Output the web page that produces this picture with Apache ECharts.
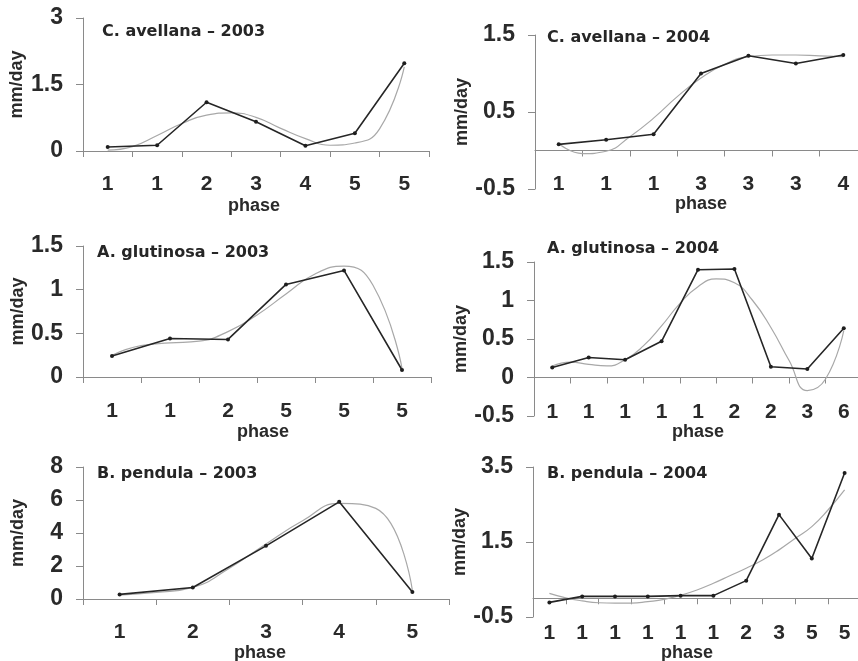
<!DOCTYPE html>
<html>
<head>
<meta charset="utf-8">
<script src="https://cdn.jsdelivr.net/npm/echarts@6/dist/echarts.min.js"></script>
<style>
  html, body { margin: 0; background: #fff; }
  #chart { width: 858px; height: 661px; }
</style>
</head>
<body>
<div id="chart"></div>
<script>
// phase of each measurement (x labels)
const phaseCav03 = ['1', '1', '2', '3', '4', '5', '5'];
const phaseCav04 = ['1', '1', '1', '3', '3', '3', '4'];
const phaseGlu03 = ['1', '1', '2', '5', '5', '5'];
const phaseGlu04 = ['1', '1', '1', '1', '1', '2', '2', '3', '6'];
const phasePen03 = ['1', '2', '3', '4', '5'];
const phasePen04 = ['1', '1', '1', '1', '1', '1', '2', '3', '5', '5'];

// measured rate, mm/day
const rateCav03 = [0.09, 0.13, 1.1, 0.66, 0.12, 0.4, 1.98];
const rateCav04 = [0.08, 0.14, 0.21, 1.0, 1.23, 1.13, 1.24];
const rateGlu03 = [0.24, 0.44, 0.43, 1.06, 1.22, 0.08];
const rateGlu04 = [0.13, 0.26, 0.23, 0.47, 1.4, 1.41, 0.14, 0.11, 0.64];
const ratePen03 = [0.28, 0.7, 3.22, 5.89, 0.42];
const ratePen04 = [-0.11, 0.05, 0.05, 0.05, 0.07, 0.07, 0.47, 2.23, 1.06, 3.34];

// fitted trend, read every half phase step (first value at the first point)
const trendCav03 = [0.02, 0.1, 0.35, 0.62, 0.81, 0.86, 0.76, 0.51, 0.28, 0.13, 0.18, 0.5, 1.9];
const trendCav04 = [0.09, -0.04, -0.01, 0.18, 0.42, 0.7, 0.94, 1.12, 1.22, 1.24, 1.24, 1.23, 1.22];
const trendGlu03 = [0.25, 0.36, 0.39, 0.41, 0.52, 0.71, 0.95, 1.18, 1.27, 1.05, 0.1];
const trendGlu04 = [0.15, 0.2, 0.17, 0.15, 0.23, 0.41, 0.67, 0.96, 1.18, 1.28, 1.23, 1.0, 0.65, 0.22, -0.17, -0.02, 0.61];
const trendPen03 = [0.24, 0.4, 0.7, 1.87, 3.34, 4.74, 5.79, 5.49, 0.52];
const trendPen04 = [0.13, 0.01, -0.07, -0.12, -0.13, -0.13, -0.09, -0.03, 0.08, 0.22, 0.4, 0.6, 0.8, 1.02, 1.29, 1.6, 1.91, 2.36, 2.89];

// y tick labels
const yTicksCav03 = [0, 1.5, 3];
const yTicksCav04 = [-0.5, 0.5, 1.5];
const yTicksGlu03 = [0, 0.5, 1, 1.5];
const yTicksGlu04 = [-0.5, 0, 0.5, 1, 1.5];
const yTicksPen03 = [0, 2, 4, 6, 8];
const yTicksPen04 = [-0.5, 1.5, 3.5];

const titles = ['C. avellana – 2003', 'C. avellana – 2004', 'A. glutinosa – 2003',
  'A. glutinosa – 2004', 'B. pendula – 2003', 'B. pendula – 2004'];

const panels = [
  { cats: phaseCav03, vals: rateCav03, trend: trendCav03, ticks: yTicksCav03 },
  { cats: phaseCav04, vals: rateCav04, trend: trendCav04, ticks: yTicksCav04 },
  { cats: phaseGlu03, vals: rateGlu03, trend: trendGlu03, ticks: yTicksGlu03 },
  { cats: phaseGlu04, vals: rateGlu04, trend: trendGlu04, ticks: yTicksGlu04 },
  { cats: phasePen03, vals: ratePen03, trend: trendPen03, ticks: yTicksPen03 },
  { cats: phasePen04, vals: ratePen04, trend: trendPen04, ticks: yTicksPen04 }
];

// layout of each panel (nx = sideways nudge of the "phase" name)
const boxes = [
  { left: 83, top: 18, width: 346, height: 133, tx: 102, ty: 32, xGap: 46, yGap: 57, lm: 23, nx: -2 },
  { left: 535, top: 35, width: 332, height: 154, tx: 547, ty: 38, xGap: 42, yGap: 59, lm: 23, nx: 0 },
  { left: 83, top: 246, width: 348, height: 131, tx: 97, ty: 253, xGap: 42, yGap: 56, lm: 24, nx: 6 },
  { left: 534, top: 262, width: 328, height: 154, tx: 547, ty: 249, xGap: 46, yGap: 58, lm: 24, nx: 0 },
  { left: 83, top: 467, width: 366, height: 132, tx: 97, ty: 474, xGap: 41, yGap: 56, lm: 23, nx: -6 },
  { left: 533, top: 467, width: 328, height: 150, tx: 547, ty: 474, xGap: 43, yGap: 56, lm: 24, nx: -10 }
];

const font = '"Liberation Sans", Arial, sans-serif';
const axisGray = '#8a8a8a';
const textCol = '#2a2a2a';

const chart = echarts.init(document.getElementById('chart'));

let grid = [], xAxis = [], yAxis = [], series = [], graphic = [];

panels.forEach((p, i) => {
  const b = boxes[i];
  const yMin = p.ticks[0], yMax = p.ticks[p.ticks.length - 1];
  // distance of the zero line above the grid bottom (phase axis sits there, labels follow it)
  const zeroOff = b.height * (0 - yMin) / (yMax - yMin);
  const namePad = b.nx < 0 ? [0, -2 * b.nx, 0, 0] : [0, 0, 0, 2 * b.nx];

  grid.push({ left: b.left, top: b.top, width: b.width, height: b.height, outerBoundsMode: 'none' });

  xAxis.push({
    type: 'category', gridIndex: i, data: p.cats, boundaryGap: true,
    position: 'bottom', offset: -zeroOff,
    name: 'phase', nameLocation: 'middle', nameGap: b.xGap,
    nameTextStyle: { fontFamily: font, fontSize: 18, fontWeight: 'bold', color: textCol, padding: namePad },
    axisLine: { onZero: false, lineStyle: { color: axisGray, width: 1 } },
    axisTick: { show: true, length: 6, lineStyle: { color: axisGray } },
    axisLabel: { interval: 0, margin: b.lm, fontFamily: font, fontSize: 21, fontWeight: 'bold', color: textCol },
    splitLine: { show: false }
  });
  // hidden axis for the fitted curve (one unit per phase column)
  xAxis.push({ type: 'value', gridIndex: i, min: 0, max: p.cats.length, show: false });

  yAxis.push({
    type: 'value', gridIndex: i, min: yMin, max: yMax,
    name: 'mm/day', nameLocation: 'middle', nameGap: b.yGap,
    nameTextStyle: { fontFamily: font, fontSize: 18, fontWeight: 'bold', color: textCol },
    axisLine: { show: true, onZero: false, lineStyle: { color: axisGray, width: 1 } },
    axisTick: { show: true, length: 7, customValues: p.ticks, lineStyle: { color: axisGray } },
    axisLabel: { margin: 20, customValues: p.ticks, fontFamily: font, fontSize: 23, fontWeight: 'bold', color: textCol },
    splitLine: { show: false }
  });

  series.push({
    type: 'line', xAxisIndex: 2 * i + 1, yAxisIndex: i,
    data: p.trend.map((v, k) => [0.5 + k * 0.5, v]),
    smooth: 0.5, showSymbol: false, silent: true,
    lineStyle: { color: '#a8a8a8', width: 1.2 }, z: 2
  });
  series.push({
    type: 'line', xAxisIndex: 2 * i, yAxisIndex: i, data: p.vals,
    symbol: 'circle', symbolSize: 4,
    itemStyle: { color: '#1e1e1e' },
    lineStyle: { color: '#262626', width: 1.6 }, z: 3
  });

  graphic.push({
    type: 'text', x: b.tx, y: b.ty,
    style: { text: titles[i], font: 'bold 16px "DejaVu Sans", sans-serif', fill: '#262626', verticalAlign: 'middle' }
  });
});

chart.setOption({
  animation: false,
  backgroundColor: '#fff',
  grid, xAxis, yAxis, series, graphic
});
</script>
</body>
</html>
